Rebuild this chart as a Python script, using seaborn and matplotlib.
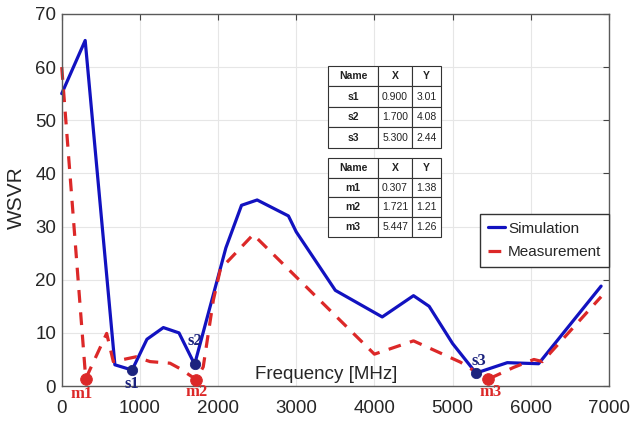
import matplotlib
matplotlib.use('Agg')
import matplotlib.pyplot as plt
import seaborn as sns

# ---- data ----
sim_freq = [0, 300, 680, 900, 1090, 1300, 1500, 1700, 2100, 2300, 2500, 2900, 3000,
            3500, 4100, 4500, 4700, 5000, 5300, 5700, 6100, 6900]
sim_wsvr = [55, 65, 4, 3.01, 8.8, 11, 10, 4.08, 26, 34, 35, 32, 29,
            18, 13, 17, 15, 8, 2.44, 4.4, 4.2, 18.8]

meas_freq = [0, 307, 575, 660, 950, 1130, 1385, 1510, 1721, 1810, 1940, 2030, 2450,
             4000, 4500, 5100, 5447, 5560, 5780, 6040, 6150, 6900]
meas_wsvr = [60, 1.38, 9.9, 4.6, 5.5, 4.6, 4.3, 3.3, 1.21, 3.6, 16.2, 22, 28.5,
             6, 8.5, 4.5, 1.26, 2.0, 3.5, 5.0, 4.6, 16.8]

sim_names = ['s1', 's2', 's3']
sim_mx = [900, 1700, 5300]
sim_my = [3.01, 4.08, 2.44]

meas_names = ['m1', 'm2', 'm3']
meas_mx = [307, 1721, 5447]
meas_my = [1.38, 1.21, 1.26]

table_cols = ['Name', 'X', 'Y']
sim_table = [['s1', '0.900', '3.01'], ['s2', '1.700', '4.08'], ['s3', '5.300', '2.44']]
meas_table = [['m1', '0.307', '1.38'], ['m2', '1.721', '1.21'], ['m3', '5.447', '1.26']]

# ---- style ----
sns.set_style('whitegrid')
plt.rcParams['font.family'] = ['Liberation Sans', 'DejaVu Sans']

blue = '#1212c0'
red = '#dc2828'
navy = '#1c237e'

fig = plt.figure(figsize=(6.43, 4.21), dpi=100)
ax = fig.add_axes([0.096, 0.083, 0.851, 0.884])

sns.lineplot(x=sim_freq, y=sim_wsvr, ax=ax, color=blue, linewidth=2.3,
             label='Simulation', sort=False, clip_on=False)
sns.lineplot(x=meas_freq, y=meas_wsvr, ax=ax, color=red, linewidth=2.3,
             linestyle=(0, (4, 3)), label='Measurement', sort=False, clip_on=False)

sns.scatterplot(x=sim_mx, y=sim_my, ax=ax, color=navy, s=55, edgecolor=navy,
                zorder=5, legend=False)
sns.scatterplot(x=meas_mx, y=meas_my, ax=ax, color=red, s=70, edgecolor=red,
                zorder=5, legend=False, clip_on=False)

# marker labels
label_off = {'s1': (0, -2.6), 's2': (0, 4.4), 's3': (40, 2.2),
             'm1': (-50, -2.9), 'm2': (0, -2.3), 'm3': (40, -2.4)}
for name, x, y in zip(sim_names, sim_mx, sim_my):
    dx, dy = label_off[name]
    ax.text(x + dx, y + dy, name, color=navy, fontsize=12, fontweight='bold',
            family='Liberation Serif', ha='center', va='center', clip_on=False)
for name, x, y in zip(meas_names, meas_mx, meas_my):
    dx, dy = label_off[name]
    ax.text(x + dx, y + dy, name, color=red, fontsize=12, fontweight='bold',
            family='Liberation Serif', ha='center', va='center', clip_on=False)

ax.set_xlim(0, 7000)
ax.set_ylim(0, 70)
ax.set_xticks(range(0, 7001, 1000))
ax.set_yticks(range(0, 71, 10))
ax.tick_params(labelsize=13.5, direction='in', length=4, top=True, right=True,
               colors='#444444', labelcolor='#262626')
ax.tick_params(axis='x', pad=10)
ax.tick_params(axis='y', pad=4)
ax.grid(color='#e6e6e6', linewidth=0.8)
for sp in ax.spines.values():
    sp.set_color('#5a5a5a')
    sp.set_linewidth(1.0)

ax.set_xlabel('')
ax.set_ylabel('WSVR', fontsize=15, color='#262626')
ax.yaxis.set_label_coords(-0.065, 0.505)
ax.text(0.483, 0.03, 'Frequency [MHz]', transform=ax.transAxes, fontsize=13.5,
        color='#262626', ha='center', va='center')

leg = ax.legend(loc='upper right', bbox_to_anchor=(1.0, 0.462), borderaxespad=0,
                fontsize=11, frameon=True, fancybox=False, edgecolor='#333333',
                framealpha=1, handlelength=1.1, handletextpad=0.2, borderpad=0.5,
                labelspacing=0.6)
leg.get_frame().set_linewidth(1.0)

# marker tables
col_w = [0.44, 0.30, 0.26]
for rows, box in [(sim_table, [0.487, 0.640, 0.207, 0.220]),
                  (meas_table, [0.487, 0.401, 0.207, 0.212])]:
    tb = ax.table(cellText=rows, colLabels=table_cols, colWidths=col_w,
                  cellLoc='center', bbox=box)
    tb.set_zorder(20)
    tb.auto_set_font_size(False)
    tb.set_fontsize(7.5)
    for (r, c), cell in tb.get_celld().items():
        cell.set_edgecolor('#333333')
        cell.set_linewidth(0.8)
        cell.set_facecolor('white')
        cell.PAD = 0.02
        cell.get_text().set_color('#222222')
        if r == 0 or c == 0:
            cell.get_text().set_fontweight('bold')

fig.savefig('out.png', dpi=100)
